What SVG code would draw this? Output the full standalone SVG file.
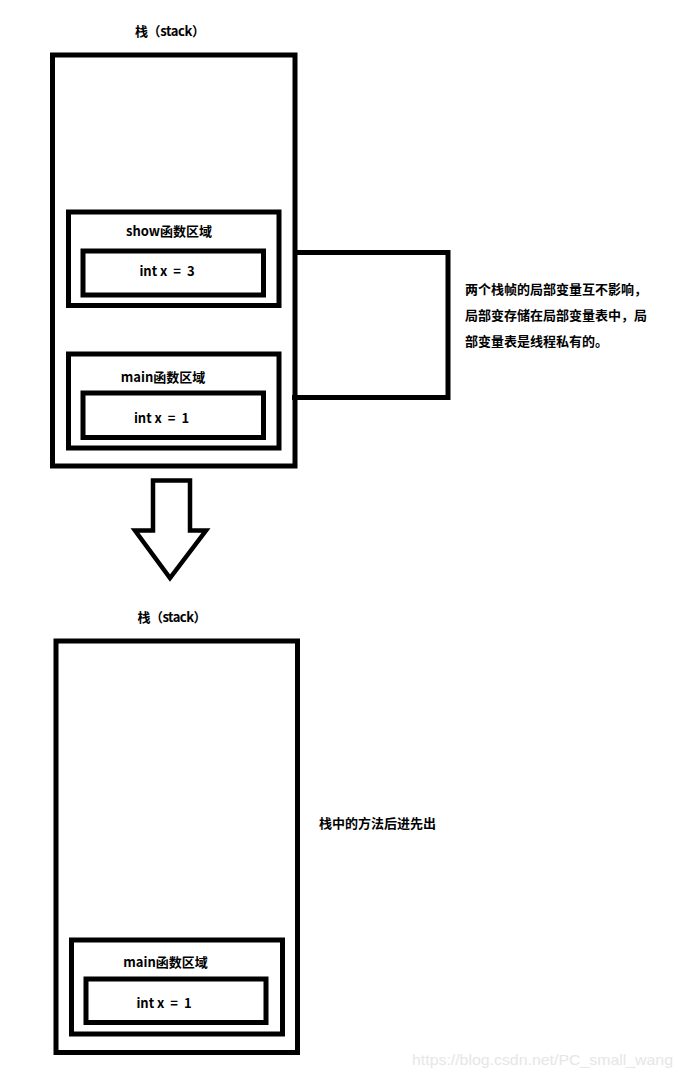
<svg xmlns="http://www.w3.org/2000/svg" width="683" height="1077" viewBox="0 0 683 1077">
  <style>
    .box { fill: none; stroke: #000; stroke-width: 5; }
    .lbl { font-family: "Noto Sans CJK SC", "Liberation Sans", sans-serif; font-size: 13px; font-weight: 700; fill: #000; }
    .mid { text-anchor: middle; }
    .pre { white-space: pre; }
    .wm { font-family: "Liberation Sans", "DejaVu Sans", sans-serif; font-size: 15px; fill: #e6e6e6; }
  </style>
  <rect width="683" height="1077" fill="#fff"/>

  <!-- upper stack: two frames -->
  <g id="stack-top">
    <text class="lbl mid" x="170" y="36" textLength="70" lengthAdjust="spacing">栈（stack）</text>
    <rect class="box" x="52.5" y="55" width="242.5" height="411"/>
  </g>
  <g id="show-frame">
    <rect class="box" x="68.5" y="212" width="210.5" height="93.5"/>
    <text class="lbl mid" x="169" y="236">show函数区域</text>
  </g>
  <g id="show-var">
    <rect class="box" x="83" y="251" width="180.5" height="44"/>
    <text class="lbl mid pre" x="167" y="276" xml:space="preserve">int x  =  3</text>
  </g>
  <g id="main-frame-top">
    <rect class="box" x="68.5" y="354" width="210.5" height="94"/>
    <text class="lbl mid" x="163" y="382">main函数区域</text>
  </g>
  <g id="main-var-top">
    <rect class="box" x="83" y="393" width="180.5" height="44.5"/>
    <text class="lbl mid pre" x="161.5" y="423" xml:space="preserve">int x  =  1</text>
  </g>

  <!-- bracket linking both frames to the note -->
  <g id="connectors">
    <path class="box" d="M297,252.5 H448 V397.5 H292" stroke-linejoin="miter"/>
  </g>
  <g id="note-locals">
    <text class="lbl" x="465" y="294">两个栈帧的局部变量互不影响，</text>
    <text class="lbl" x="465" y="320">局部变存储在局部变量表中，局</text>
    <text class="lbl" x="465" y="346">部变量表是线程私有的。</text>
  </g>

  <!-- transition arrow -->
  <g id="arrow-down">
    <polygon points="153,480.5 190,480.5 190,530.5 206,530.5 170,578 135,530.5 153,530.5" fill="#fff" stroke="#000" stroke-width="4.5" stroke-linejoin="miter"/>
  </g>

  <!-- lower stack: one frame left -->
  <g id="stack-bottom">
    <text class="lbl mid" x="172" y="622" textLength="69" lengthAdjust="spacing">栈（stack）</text>
    <rect class="box" x="56" y="641" width="241.5" height="411.5"/>
  </g>
  <g id="main-frame-bottom">
    <rect class="box" x="71.5" y="940" width="211" height="94"/>
    <text class="lbl mid" x="165.5" y="967">main函数区域</text>
  </g>
  <g id="main-var-bottom">
    <rect class="box" x="86" y="979" width="180" height="43.5"/>
    <text class="lbl mid pre" x="164" y="1008" xml:space="preserve">int x  =  1</text>
  </g>
  <g id="note-lifo">
    <text class="lbl" x="319" y="828">栈中的方法后进先出</text>
  </g>

  <text class="wm" x="412" y="1065" textLength="261" lengthAdjust="spacingAndGlyphs">https://blog.csdn.net/PC_small_wang</text>
</svg>
